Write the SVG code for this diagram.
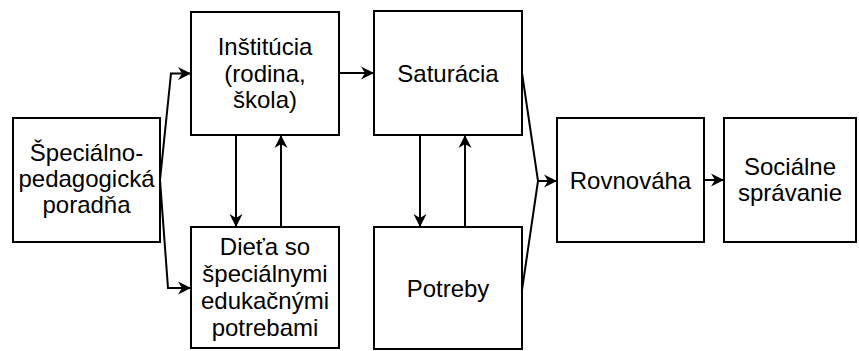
<svg xmlns="http://www.w3.org/2000/svg" width="859" height="351" viewBox="0 0 859 351">
  <style>
    .box { fill: #ffffff; stroke: #000000; stroke-width: 2; }
    .lbl { font-family: "Liberation Sans", Arial, sans-serif; font-size: 24px; fill: #000000; text-anchor: middle; }
    .edge { fill: none; stroke: #000000; stroke-width: 2; stroke-linejoin: miter; }
    .arr { marker-end: url(#head); }
  </style>
  <defs>
    <marker id="head" viewBox="-14 -8 15 16" refX="0" refY="0" markerWidth="15" markerHeight="16" markerUnits="userSpaceOnUse" orient="auto">
      <path d="M0,0 L-13,-6.5 L-9,0 L-13,6.5 Z" fill="#000000"/>
    </marker>
  </defs>
  <rect width="859" height="351" fill="#ffffff"/>

  <g id="connectors">
    <path class="edge arr" d="M160,180 L171,73.5 L191,73.5"/>
    <path class="edge arr" d="M160,180 L168,288 L191,288"/>
    <path class="edge arr" d="M339,73 L374,73"/>
    <path class="edge arr" d="M236,135 L236,227"/>
    <path class="edge arr" d="M281,227 L281,135"/>
    <path class="edge arr" d="M420,135 L420,227"/>
    <path class="edge arr" d="M465,227 L465,135"/>
    <path class="edge arr" d="M522,73 L538,181 L557,181"/>
    <path class="edge" d="M522,290 L538,181"/>
    <path class="edge arr" d="M704,180 L724,180"/>
  </g>

  <g id="poradna">
    <rect class="box" x="13" y="118" width="147" height="124"/>
    <text class="lbl" x="86.5" y="161">Špeciálno-</text>
    <text class="lbl" x="86.5" y="187">pedagogická</text>
    <text class="lbl" x="86.5" y="213">poradňa</text>
  </g>

  <g id="institucia">
    <rect class="box" x="191" y="12" width="148" height="123"/>
    <text class="lbl" x="265" y="55">Inštitúcia</text>
    <text class="lbl" x="265" y="81.5">(rodina,</text>
    <text class="lbl" x="265" y="108">škola)</text>
  </g>

  <g id="dieta">
    <rect class="box" x="191" y="227" width="148" height="121"/>
    <text class="lbl" x="265" y="255">Dieťa so</text>
    <text class="lbl" x="265" y="282">špeciálnymi</text>
    <text class="lbl" x="265" y="309">edukačnými</text>
    <text class="lbl" x="265" y="335.5">potrebami</text>
  </g>

  <g id="saturacia">
    <rect class="box" x="374" y="11" width="148" height="124"/>
    <text class="lbl" x="448" y="81.5">Saturácia</text>
  </g>

  <g id="potreby">
    <rect class="box" x="374" y="227" width="148" height="122"/>
    <text class="lbl" x="448" y="296.5">Potreby</text>
  </g>

  <g id="rovnovaha">
    <rect class="box" x="557" y="118" width="147" height="124"/>
    <text class="lbl" x="630.5" y="188.5">Rovnováha</text>
  </g>

  <g id="socialne">
    <rect class="box" x="724" y="118" width="132" height="124"/>
    <text class="lbl" x="790" y="175">Sociálne</text>
    <text class="lbl" x="790" y="201">správanie</text>
  </g>
</svg>
